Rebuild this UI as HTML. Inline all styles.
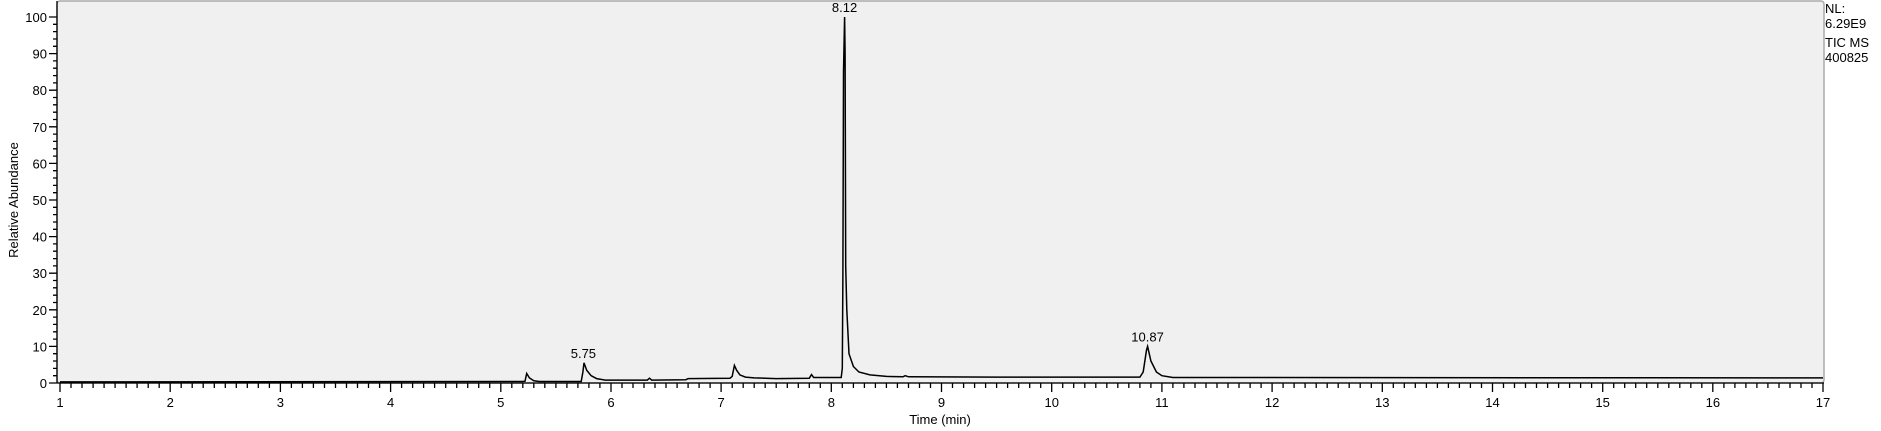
<!DOCTYPE html>
<html><head><meta charset="utf-8"><style>
html,body{margin:0;padding:0;background:#fff;}
svg{display:block;font-family:"Liberation Sans",Arial,sans-serif;}
</style></head><body>
<svg id="chart" width="1881" height="431" viewBox="0 0 1881 431" xmlns="http://www.w3.org/2000/svg">
<rect x="57" y="1" width="1767" height="382" rx="3" fill="#f0f0f0" stroke="#aaaaaa" stroke-width="1.5"/>
<g id="axes"></g>
<path id="trace" fill="none" stroke="#000" stroke-width="1.5"/>
<g id="labels"></g>
<text x="18" y="200" font-size="13" text-anchor="middle" transform="rotate(-90 18 200)" fill="#000">Relative Abundance</text>
<text x="940" y="424" font-size="13" text-anchor="middle" fill="#000">Time (min)</text>
<g font-size="13" fill="#000">
<text x="1825" y="13">NL:</text>
<text x="1825" y="28">6.29E9</text>
<text x="1825" y="47">TIC  MS</text>
<text x="1825" y="62">400825</text>
</g>
</svg>
<script>
const times=[1.0,5.2,5.22,5.235,5.26,5.3,5.35,5.73,5.745,5.755,5.78,5.82,5.87,5.95,6.33,6.35,6.37,6.68,6.7,7.08,7.1,7.12,7.14,7.17,7.22,7.3,7.5,7.8,7.82,7.84,8.09,8.1,8.105,8.11,8.12,8.125,8.13,8.14,8.16,8.2,8.25,8.35,8.5,8.65,8.67,8.7,9.5,10.8,10.83,10.86,10.87,10.9,10.95,11.0,11.1,17.0];
const abund=[0.3,0.4,0.5,2.6,1.4,0.6,0.4,0.4,3,5.5,3.5,2,1.2,0.8,0.8,1.3,0.8,0.9,1.2,1.3,1.8,4.8,3.5,2.2,1.6,1.4,1.2,1.3,2.3,1.5,1.5,4,30,85,100,90,32,20,8,4.5,3,2.2,1.8,1.7,2,1.7,1.6,1.6,3,9,10,6,3,2,1.5,1.4];
const peakTimes=[5.75,8.12,10.87];
const peakLabels=["5.75","8.12","10.87"];
const peakHeights=[5.5,100,10];
const xTicks=[1,2,3,4,5,6,7,8,9,10,11,12,13,14,15,16,17];
const yTicks=[0,10,20,30,40,50,60,70,80,90,100];

const X=t=>60+(t-1)*110.19;
const Y=v=>383-v*3.66;
const NS="http://www.w3.org/2000/svg";
const axes=document.getElementById('axes');
function mk(tag,attrs,parent){const e=document.createElementNS(NS,tag);for(const k in attrs)e.setAttribute(k,attrs[k]);parent.appendChild(e);return e;}
let d="M57 383H1824 M57 1V383";
for(let i=0;i<=160;i++){const x=X(1+i/10);d+=`M${x.toFixed(1)} 383V${i%10===0?392:388}`;}
for(let i=0;i<=50;i++){const y=Y(i*2);d+=`M57 ${y.toFixed(1)}H${i%5===0?49:53}`;}
const ap=mk('path',{d:d,stroke:'#000','stroke-width':1.3,fill:'none'},axes);


xTicks.forEach(t=>{const e=mk('text',{x:X(t),y:407,'font-size':13,'text-anchor':'middle'},axes);e.textContent=t;

});
yTicks.forEach(v=>{const e=mk('text',{x:47,y:Y(v)+5,'font-size':13,'text-anchor':'end'},axes);e.textContent=v;

});
document.getElementById('trace').setAttribute('d',times.map((t,i)=>(i?'L':'M')+X(t).toFixed(1)+' '+Y(abund[i]).toFixed(1)).join(''));
const lg=document.getElementById('labels');
peakTimes.forEach((t,i)=>{const e=mk('text',{x:X(t),y:Y(peakHeights[i])-5,'font-size':13,'text-anchor':'middle'},lg);e.textContent=peakLabels[i];

});
</script>
</body></html>
